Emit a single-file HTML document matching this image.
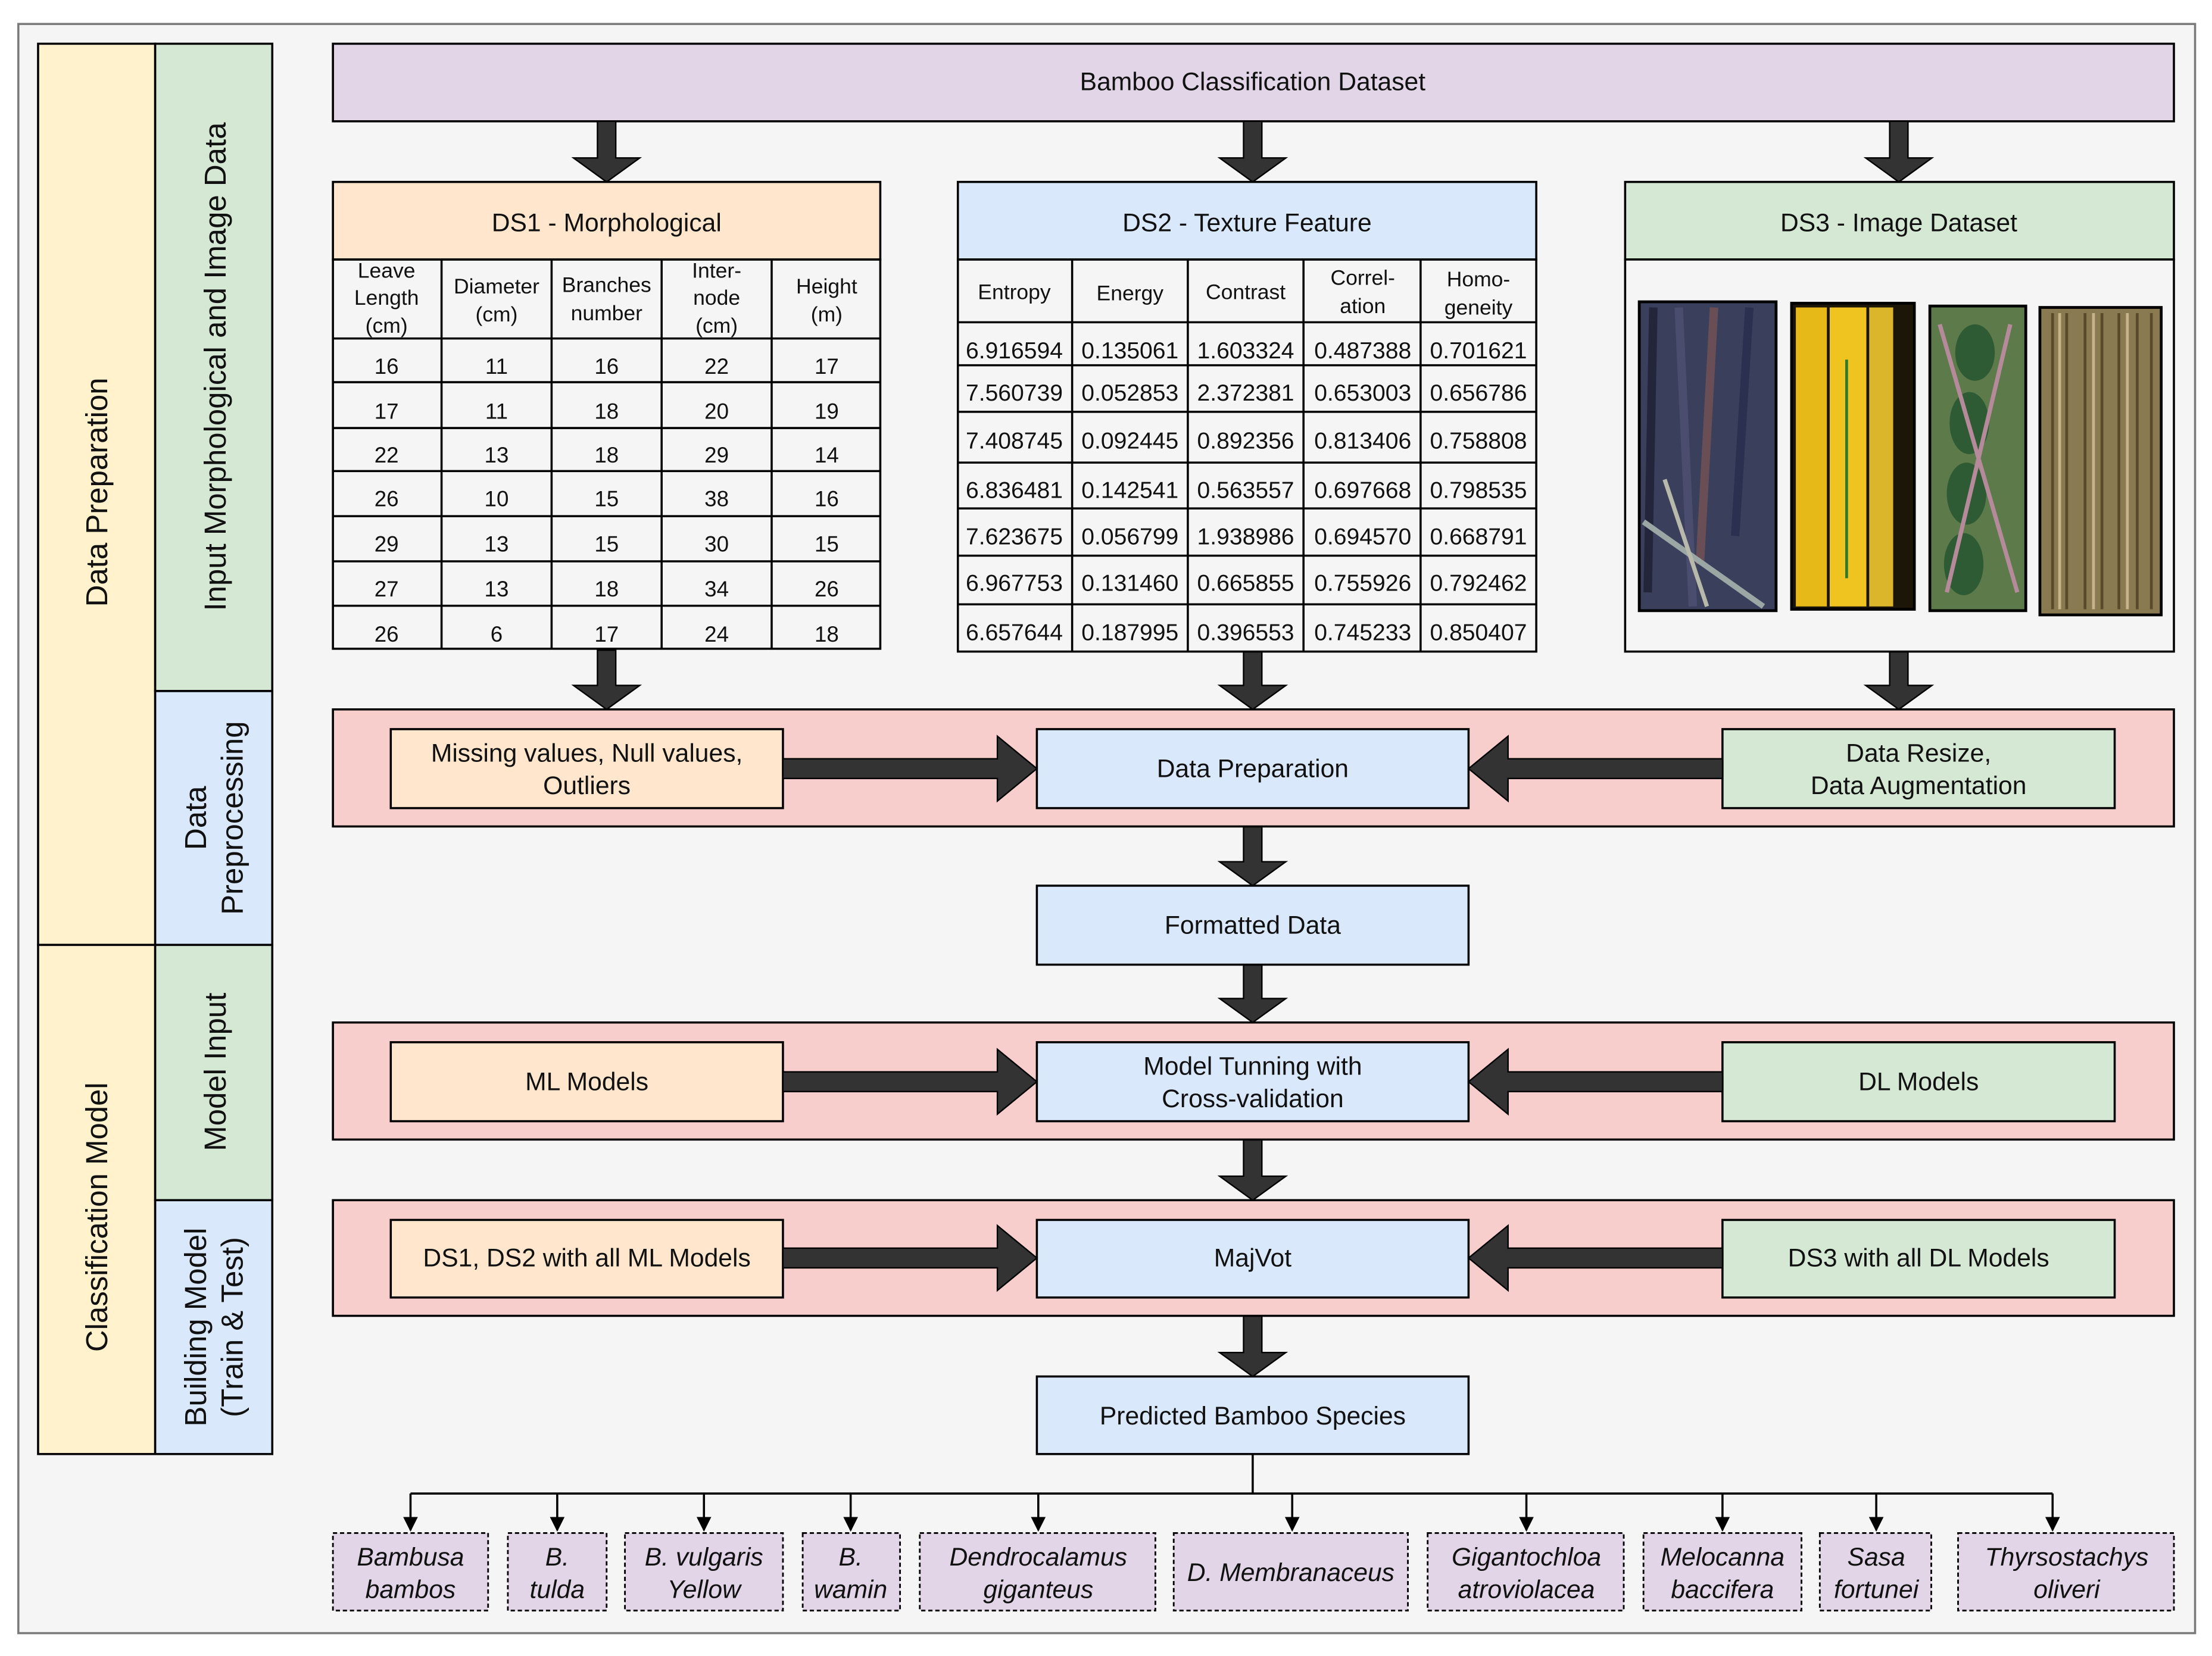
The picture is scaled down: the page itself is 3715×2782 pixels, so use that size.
<!DOCTYPE html>
<html><head><meta charset="utf-8"><style>
html,body{margin:0;padding:0;background:#fff;}
svg{display:block;}
text{font-family:"Liberation Sans",Arial,sans-serif;fill:#111;}
</style></head><body>
<svg width="3715" height="2782" viewBox="0 0 1568 1174.2" xmlns="http://www.w3.org/2000/svg">
<defs>
<marker id="ah" viewBox="0 0 10 10" refX="9" refY="5" markerWidth="7" markerHeight="7" orient="auto"><path d="M0,0 L10,5 L0,10 z" fill="#000"/></marker>
</defs>
<rect x="0" y="0" width="1568" height="1175" fill="#fff"/>
<rect x="13" y="17" width="1543" height="1141" fill="#f5f5f5" stroke="#7a7a7a" stroke-width="1.5"/>

<g stroke="#000" stroke-width="1.5">
<rect x="27" y="31" width="83" height="639" fill="#fff2cc"/>
<rect x="27" y="670" width="83" height="361" fill="#fff2cc"/>
<rect x="110" y="31" width="83" height="459" fill="#d5e8d4"/>
<rect x="110" y="490" width="83" height="180" fill="#dae8fc"/>
<rect x="110" y="670" width="83" height="181" fill="#d5e8d4"/>
<rect x="110" y="851" width="83" height="180" fill="#dae8fc"/>
</g>
<g font-size="21.5" text-anchor="middle">
<text transform="translate(76,349) rotate(-90)">Data Preparation</text>
<text transform="translate(76,863) rotate(-90)">Classification Model</text>
<text transform="translate(160,260) rotate(-90)">Input Morphological and Image Data</text>
<text transform="translate(146,580) rotate(-90)">Data</text>
<text transform="translate(172,580) rotate(-90)">Preprocessing</text>
<text transform="translate(160,760) rotate(-90)">Model Input</text>
<text transform="translate(146,941) rotate(-90)">Building Model</text>
<text transform="translate(172,941) rotate(-90)">(Train &amp; Test)</text>
</g>

<rect x="236" y="31" width="1305" height="55" fill="#e1d5e7" stroke="#000" stroke-width="1.5"/>
<text x="888" y="64" font-size="18" text-anchor="middle">Bamboo Classification Dataset</text>

<g fill="#333" stroke="#000" stroke-width="1">
<path d="M423.5,86 h13 v26 h17 l-23.5,17 l-23.5,-17 h17 z"/>
<path d="M881.5,86 h13 v26 h17 l-23.5,17 l-23.5,-17 h17 z"/>
<path d="M1339.5,86 h13 v26 h17 l-23.5,17 l-23.5,-17 h17 z"/>
<path d="M423.5,461 h13 v25 h17 l-23.5,17 l-23.5,-17 h17 z"/>
<path d="M881.5,462 h13 v24 h17 l-23.5,17 l-23.5,-17 h17 z"/>
<path d="M1339.5,462 h13 v24 h17 l-23.5,17 l-23.5,-17 h17 z"/>
<path d="M881.5,586 h13 v25 h17 l-23.5,17 l-23.5,-17 h17 z"/>
<path d="M881.5,684 h13 v24 h17 l-23.5,17 l-23.5,-17 h17 z"/>
<path d="M881.5,808 h13 v26 h17 l-23.5,17 l-23.5,-17 h17 z"/>
<path d="M881.5,933 h13 v26 h17 l-23.5,17 l-23.5,-17 h17 z"/>
</g>

<rect x="236" y="129" width="388" height="55" fill="#ffe6cc" stroke="#000" stroke-width="1.5"/>
<text x="430" y="164" font-size="18" text-anchor="middle">DS1 - Morphological</text>
<g stroke="#000" stroke-width="1.5" fill="none">
<rect x="236" y="184" width="388" height="276"/>
<path d="M313,184V460M391,184V460M469,184V460M547,184V460"/>
<path d="M236,240H624M236,271H624M236,303.5H624M236,334H624M236,366H624M236,398H624M236,429.5H624"/>
</g>
<g font-size="15" text-anchor="middle">
<text x="274" y="197">Leave</text><text x="274" y="216">Length</text><text x="274" y="236">(cm)</text>
<text x="352" y="208">Diameter</text><text x="352" y="228">(cm)</text>
<text x="430" y="207">Branches</text><text x="430" y="227">number</text>
<text x="508" y="197">Inter-</text><text x="508" y="216">node</text><text x="508" y="236">(cm)</text>
<text x="586" y="208">Height</text><text x="586" y="228">(m)</text>
</g>
<g font-size="15.5" text-anchor="middle">
<text y="265"><tspan x="274">16</tspan><tspan x="352">11</tspan><tspan x="430">16</tspan><tspan x="508">22</tspan><tspan x="586">17</tspan></text>
<text y="297"><tspan x="274">17</tspan><tspan x="352">11</tspan><tspan x="430">18</tspan><tspan x="508">20</tspan><tspan x="586">19</tspan></text>
<text y="328"><tspan x="274">22</tspan><tspan x="352">13</tspan><tspan x="430">18</tspan><tspan x="508">29</tspan><tspan x="586">14</tspan></text>
<text y="359"><tspan x="274">26</tspan><tspan x="352">10</tspan><tspan x="430">15</tspan><tspan x="508">38</tspan><tspan x="586">16</tspan></text>
<text y="391"><tspan x="274">29</tspan><tspan x="352">13</tspan><tspan x="430">15</tspan><tspan x="508">30</tspan><tspan x="586">15</tspan></text>
<text y="423"><tspan x="274">27</tspan><tspan x="352">13</tspan><tspan x="430">18</tspan><tspan x="508">34</tspan><tspan x="586">26</tspan></text>
<text y="455"><tspan x="274">26</tspan><tspan x="352">6</tspan><tspan x="430">17</tspan><tspan x="508">24</tspan><tspan x="586">18</tspan></text>
</g>

<rect x="679" y="129" width="410" height="55" fill="#dae8fc" stroke="#000" stroke-width="1.5"/>
<text x="884" y="164" font-size="18" text-anchor="middle">DS2 - Texture Feature</text>
<g stroke="#000" stroke-width="1.5" fill="none">
<rect x="679" y="184" width="410" height="278"/>
<path d="M760,184V462M842,184V462M924,184V462M1007,184V462"/>
<path d="M679,228.5H1089M679,259H1089M679,292H1089M679,328H1089M679,360.5H1089M679,394H1089M679,428.5H1089"/>
</g>
<g font-size="15" text-anchor="middle">
<text x="719" y="212">Entropy</text>
<text x="801" y="213">Energy</text>
<text x="883" y="212">Contrast</text>
<text x="966" y="202">Correl-</text><text x="966" y="222">ation</text>
<text x="1048" y="203">Homo-</text><text x="1048" y="223">geneity</text>
</g>
<g font-size="16.5" text-anchor="middle">
<text y="254"><tspan x="719">6.916594</tspan><tspan x="801">0.135061</tspan><tspan x="883">1.603324</tspan><tspan x="966">0.487388</tspan><tspan x="1048">0.701621</tspan></text>
<text y="284"><tspan x="719">7.560739</tspan><tspan x="801">0.052853</tspan><tspan x="883">2.372381</tspan><tspan x="966">0.653003</tspan><tspan x="1048">0.656786</tspan></text>
<text y="318"><tspan x="719">7.408745</tspan><tspan x="801">0.092445</tspan><tspan x="883">0.892356</tspan><tspan x="966">0.813406</tspan><tspan x="1048">0.758808</tspan></text>
<text y="353"><tspan x="719">6.836481</tspan><tspan x="801">0.142541</tspan><tspan x="883">0.563557</tspan><tspan x="966">0.697668</tspan><tspan x="1048">0.798535</tspan></text>
<text y="386"><tspan x="719">7.623675</tspan><tspan x="801">0.056799</tspan><tspan x="883">1.938986</tspan><tspan x="966">0.694570</tspan><tspan x="1048">0.668791</tspan></text>
<text y="419"><tspan x="719">6.967753</tspan><tspan x="801">0.131460</tspan><tspan x="883">0.665855</tspan><tspan x="966">0.755926</tspan><tspan x="1048">0.792462</tspan></text>
<text y="454"><tspan x="719">6.657644</tspan><tspan x="801">0.187995</tspan><tspan x="883">0.396553</tspan><tspan x="966">0.745233</tspan><tspan x="1048">0.850407</tspan></text>
</g>

<rect x="1152" y="129" width="389" height="55" fill="#d5e8d4" stroke="#000" stroke-width="1.5"/>
<text x="1346" y="164" font-size="18" text-anchor="middle">DS3 - Image Dataset</text>
<rect x="1152" y="184" width="389" height="278" fill="#f5f5f5" stroke="#000" stroke-width="1.5"/>
<rect x="1162" y="214" width="97" height="219" fill="#3a3f5c" stroke="#000" stroke-width="2"/>
<g stroke-width="6">
<path d="M1172,218 L1168,420" stroke="#23263a"/><path d="M1190,218 L1200,430" stroke="#4a4d6e"/>
<path d="M1215,218 L1205,400" stroke="#6a4e56"/><path d="M1240,218 L1230,380" stroke="#2c3050"/>
<path d="M1165,370 L1250,430" stroke="#9aa7a4" stroke-width="4"/><path d="M1180,340 L1210,430" stroke="#b7b9aa" stroke-width="3"/>
</g>
<rect x="1270" y="215" width="87" height="217" fill="#1b1608" stroke="#000" stroke-width="2"/>
<rect x="1273" y="218" width="22" height="212" fill="#e6b818"/>
<rect x="1297" y="218" width="26" height="212" fill="#f0c420"/>
<rect x="1325" y="218" width="17" height="212" fill="#dcb62a"/>
<path d="M1309,255V410" stroke="#2e7a2a" stroke-width="2"/>
<rect x="1368" y="217" width="68" height="216" fill="#5c7a4a" stroke="#000" stroke-width="2"/>
<g fill="#2e5a34"><ellipse cx="1400" cy="250" rx="14" ry="20"/><ellipse cx="1396" cy="300" rx="14" ry="22"/><ellipse cx="1394" cy="350" rx="14" ry="22"/><ellipse cx="1392" cy="400" rx="14" ry="22"/></g>
<path d="M1375,230 L1430,420 M1425,230 L1380,420" stroke="#b58a9a" stroke-width="3"/>
<rect x="1446" y="218" width="86" height="218" fill="#8a7a52" stroke="#000" stroke-width="2"/>
<g stroke-width="2"><path d="M1455,222V432M1465,222V432M1478,222V432M1490,222V432M1502,222V432M1515,222V432M1525,222V432" stroke="#5a4a2a"/>
<path d="M1460,222V432M1484,222V432M1508,222V432" stroke="#c8b48a"/></g>

<g stroke="#000" stroke-width="1.5">
<rect x="236" y="503" width="1305" height="83" fill="#f8cecc"/>
<rect x="236" y="725" width="1305" height="83" fill="#f8cecc"/>
<rect x="236" y="851" width="1305" height="82" fill="#f8cecc"/>
<rect x="277" y="517" width="278" height="56" fill="#ffe6cc"/>
<rect x="735" y="517" width="306" height="56" fill="#dae8fc"/>
<rect x="1221" y="517" width="278" height="56" fill="#d5e8d4"/>
<rect x="735" y="628" width="306" height="56" fill="#dae8fc"/>
<rect x="277" y="739" width="278" height="56" fill="#ffe6cc"/>
<rect x="735" y="739" width="306" height="56" fill="#dae8fc"/>
<rect x="1221" y="739" width="278" height="56" fill="#d5e8d4"/>
<rect x="277" y="865" width="278" height="55" fill="#ffe6cc"/>
<rect x="735" y="865" width="306" height="55" fill="#dae8fc"/>
<rect x="1221" y="865" width="278" height="55" fill="#d5e8d4"/>
<rect x="735" y="976" width="306" height="55" fill="#dae8fc"/>
</g>
<g fill="#333" stroke="#000" stroke-width="1">
<path d="M555,538 h152 v-16 l28,23 l-28,23 v-16 h-152 z"/>
<path d="M1221,538 h-152 v-16 l-28,23 l28,23 v-16 h152 z"/>
<path d="M555,760 h152 v-16 l28,23 l-28,23 v-16 h-152 z"/>
<path d="M1221,760 h-152 v-16 l-28,23 l28,23 v-16 h152 z"/>
<path d="M555,885 h152 v-16 l28,23 l-28,23 v-16 h-152 z"/>
<path d="M1221,885 h-152 v-16 l-28,23 l28,23 v-16 h152 z"/>
</g>
<g font-size="18" text-anchor="middle">
<text x="416" y="540">Missing values, Null values,</text><text x="416" y="563">Outliers</text>
<text x="888" y="551">Data Preparation</text>
<text x="1360" y="540">Data Resize,</text><text x="1360" y="563">Data Augmentation</text>
<text x="888" y="662">Formatted Data</text>
<text x="416" y="773">ML Models</text>
<text x="888" y="762">Model Tunning with</text><text x="888" y="785">Cross-validation</text>
<text x="1360" y="773">DL Models</text>
<text x="416" y="898">DS1, DS2 with all ML Models</text>
<text x="888" y="898">MajVot</text>
<text x="1360" y="898">DS3 with all DL Models</text>
<text x="888" y="1010">Predicted Bamboo Species</text>
</g>

<g stroke="#000" stroke-width="1.5" fill="none">
<path d="M888,1031V1059M291,1059H1455"/>
<path d="M291,1059V1085" marker-end="url(#ah)"/><path d="M395,1059V1085" marker-end="url(#ah)"/>
<path d="M499,1059V1085" marker-end="url(#ah)"/><path d="M603,1059V1085" marker-end="url(#ah)"/>
<path d="M736,1059V1085" marker-end="url(#ah)"/><path d="M916,1059V1085" marker-end="url(#ah)"/>
<path d="M1082,1059V1085" marker-end="url(#ah)"/><path d="M1221,1059V1085" marker-end="url(#ah)"/>
<path d="M1330,1059V1085" marker-end="url(#ah)"/><path d="M1455,1059V1085" marker-end="url(#ah)"/>
</g>
<g fill="#e1d5e7" stroke="#000" stroke-width="1.2" stroke-dasharray="3,2">
<rect x="236" y="1087" width="110" height="55"/><rect x="360" y="1087" width="70" height="55"/>
<rect x="443" y="1087" width="112" height="55"/><rect x="569" y="1087" width="69" height="55"/>
<rect x="652" y="1087" width="167" height="55"/><rect x="832" y="1087" width="166" height="55"/>
<rect x="1012" y="1087" width="139" height="55"/><rect x="1165" y="1087" width="112" height="55"/>
<rect x="1290" y="1087" width="79" height="55"/><rect x="1388" y="1087" width="153" height="55"/>
</g>
<g font-size="18" font-style="italic" text-anchor="middle">
<text x="291" y="1110">Bambusa</text><text x="291" y="1133">bambos</text>
<text x="395" y="1110">B.</text><text x="395" y="1133">tulda</text>
<text x="499" y="1110">B. vulgaris</text><text x="499" y="1133">Yellow</text>
<text x="603" y="1110">B.</text><text x="603" y="1133">wamin</text>
<text x="736" y="1110">Dendrocalamus</text><text x="736" y="1133">giganteus</text>
<text x="915" y="1121">D. Membranaceus</text>
<text x="1082" y="1110">Gigantochloa</text><text x="1082" y="1133">atroviolacea</text>
<text x="1221" y="1110">Melocanna</text><text x="1221" y="1133">baccifera</text>
<text x="1330" y="1110">Sasa</text><text x="1330" y="1133">fortunei</text>
<text x="1465" y="1110">Thyrsostachys</text><text x="1465" y="1133">oliveri</text>
</g>
</svg>
</body></html>
